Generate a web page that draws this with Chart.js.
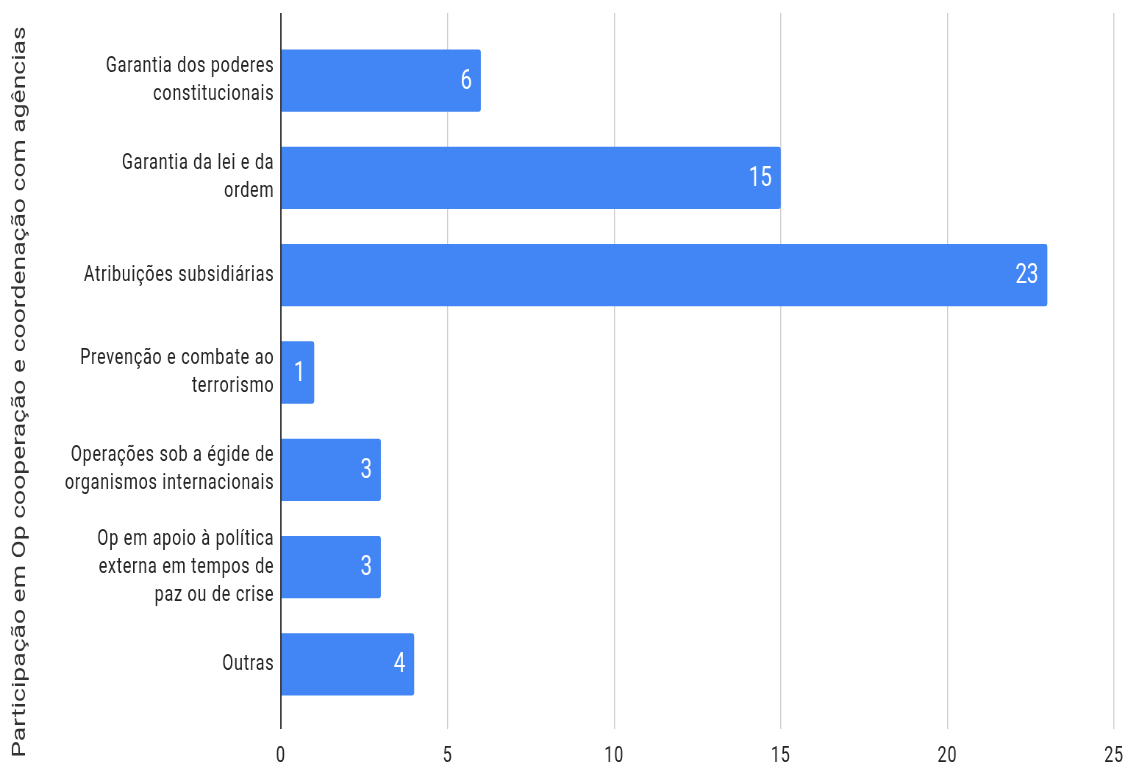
<!DOCTYPE html>
<html lang="pt">
<head>
<meta charset="utf-8">
<title>Participação em Op cooperação e coordenação com agências</title>
<script src="https://cdn.jsdelivr.net/npm/chart.js@4"></script>
<style>
  html, body { margin: 0; padding: 0; background: #fff; overflow: hidden; }
</style>
</head>
<body>
<!-- o canvas é desenhado mais largo e comprimido na horizontal -->
<canvas id="grafico" width="1530" height="765" style="width:1125px;height:765px;display:block"></canvas>
<script>
// categorias (rótulos em várias linhas) e quantidades de cada uma
const categorias = [
  ["Garantia dos poderes", "constitucionais"],
  ["Garantia da lei e da", "ordem"],
  "Atribuições subsidiárias",
  ["Prevenção e combate ao", "terrorismo"],
  ["Operações sob a égide de", "organismos internacionais"],
  ["Op em apoio à política", "externa em tempos de", "paz ou de crise"],
  "Outras"
];
const valores = [6, 15, 23, 1, 3, 3, 4];
const escalaX = { min: 0, max: 25, passo: 5 };
const tituloEixo = "Participação em Op cooperação e coordenação com agências";

const AZUL = "#4285F4";
const FONTE = "Roboto, 'Noto Sans', sans-serif";
const MARGEM_TOPO = 13;

// linha do zero escura, demais linhas de grade cinza
const corGrade = c => (c.tick && c.tick.value === 0 ? "#333333" : "#cccccc");
const larguraGrade = c => (c.tick && c.tick.value === 0 ? 2 : 1.4);

// textos dos eixos um pouco espaçados, como no Google Charts
const espacamento = {
  id: "espacamento",
  beforeDraw(chart) { chart.ctx.letterSpacing = "1px"; },
  beforeDatasetsDraw(chart) { chart.ctx.letterSpacing = "0px"; }
};

// escreve o valor dentro da ponta de cada barra
const rotulosValor = {
  id: "rotulosValor",
  afterDatasetsDraw(chart) {
    const { ctx } = chart;
    const meta = chart.getDatasetMeta(0);
    ctx.save();
    ctx.font = "28px " + FONTE;
    ctx.fillStyle = "#ffffff";
    ctx.textAlign = "right";
    ctx.textBaseline = "middle";
    meta.data.forEach((barra, i) => {
      ctx.fillText(String(valores[i]), barra.x - 12, barra.y + 1);
    });
    ctx.restore();
  }
};

// título vertical centrado na altura útil do gráfico (abaixo da margem do topo)
const tituloVertical = {
  id: "tituloVertical",
  afterDraw(chart) {
    const { ctx } = chart;
    ctx.save();
    ctx.translate(27, (MARGEM_TOPO + chart.height) / 2 + 3);
    ctx.rotate(-Math.PI / 2);
    ctx.font = "26.5px " + FONTE;
    ctx.fillStyle = "#333333";
    ctx.textAlign = "center";
    ctx.textBaseline = "middle";
    ctx.fillText(tituloEixo, 0, 0);
    ctx.restore();
  }
};

new Chart(document.getElementById("grafico"), {
  type: "bar",
  data: {
    labels: categorias,
    datasets: [{
      data: valores,
      backgroundColor: AZUL,
      borderRadius: 3,
      barPercentage: 0.8,
      categoryPercentage: 0.8
    }]
  },
  options: {
    indexAxis: "y",
    responsive: false,
    devicePixelRatio: 1,
    animation: false,
    layout: { padding: { top: MARGEM_TOPO, right: 15, left: 0, bottom: 0 } },
    plugins: {
      legend: { display: false },
      tooltip: { enabled: false }
    },
    scales: {
      x: {
        position: "bottom",
        min: escalaX.min,
        max: escalaX.max,
        border: { display: false },
        grid: { color: corGrade, lineWidth: larguraGrade, tickLength: 16 },
        ticks: {
          stepSize: escalaX.passo,
          padding: 14,
          color: "#222222",
          font: { family: FONTE, size: 22 }
        },
        // altura fixa e sem folga lateral reservada para o rótulo "25"
        afterFit: s => { s.height = 52; s.paddingLeft = 0; s.paddingRight = 0; }
      },
      // eixo de apoio no topo, só para prolongar as linhas de grade
      x2: {
        position: "top",
        min: escalaX.min,
        max: escalaX.max,
        border: { display: false },
        grid: { color: corGrade, lineWidth: larguraGrade, tickLength: 19, drawOnChartArea: false },
        ticks: { stepSize: escalaX.passo, display: false }
      },
      y: {
        border: { display: false },
        grid: { display: false, drawTicks: false },
        ticks: {
          padding: 9,
          color: "#222222",
          font: { family: FONTE, size: 22, lineHeight: "28px" }
        },
        afterFit: s => { s.width = 382; }
      }
    }
  },
  plugins: [espacamento, rotulosValor, tituloVertical]
});
</script>
</body>
</html>
